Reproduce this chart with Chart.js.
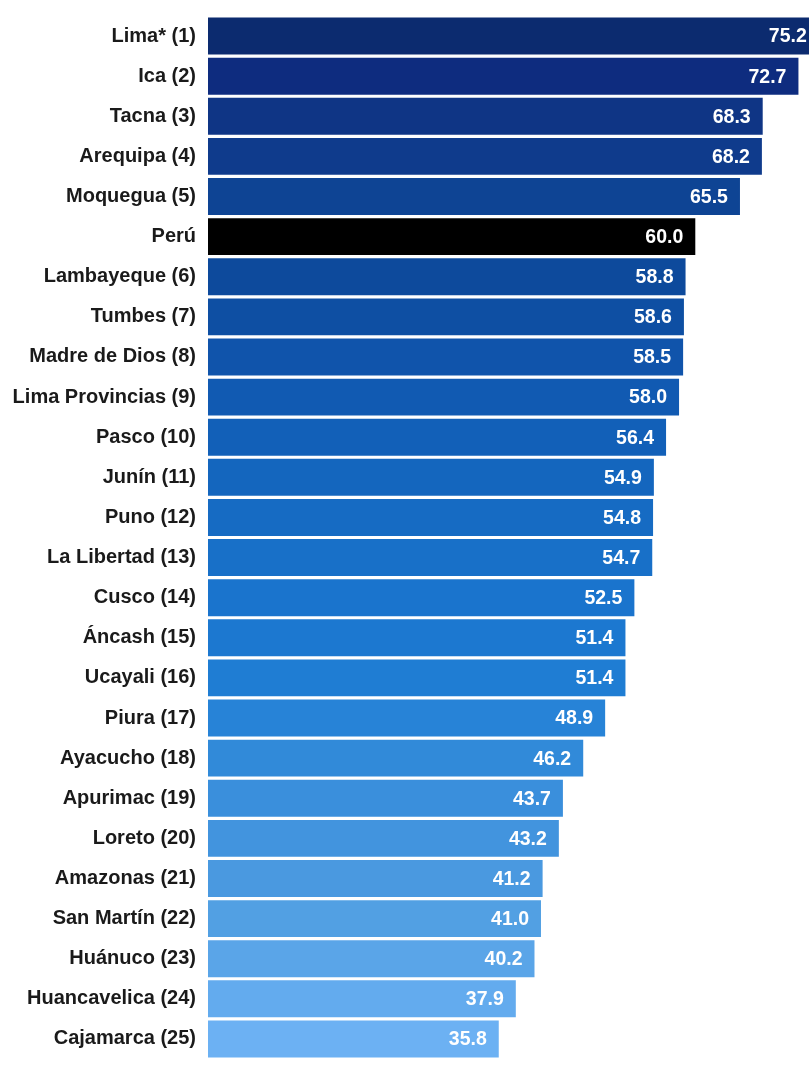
<!DOCTYPE html>
<html>
<head>
<meta charset="utf-8">
<script src="https://cdn.jsdelivr.net/npm/chart.js@4"></script>
<style>
  body { margin: 0; background: #fff; }
  #wrap { width: 809px; height: 1068px; position: relative; }
</style>
</head>
<body>
<div id="wrap"><canvas id="myChart"></canvas></div>
<script>
const regiones = ["Lima* (1)", "Ica (2)", "Tacna (3)", "Arequipa (4)", "Moquegua (5)", "Perú",
    "Lambayeque (6)", "Tumbes (7)", "Madre de Dios (8)", "Lima Provincias (9)", "Pasco (10)",
    "Junín (11)", "Puno (12)", "La Libertad (13)", "Cusco (14)", "Áncash (15)", "Ucayali (16)",
    "Piura (17)", "Ayacucho (18)", "Apurimac (19)", "Loreto (20)", "Amazonas (21)",
    "San Martín (22)", "Huánuco (23)", "Huancavelica (24)", "Cajamarca (25)"]
const valores = [75.2, 72.7, 68.3, 68.2, 65.5, 60.0, 58.8, 58.6, 58.5, 58.0, 56.4, 54.9, 54.8,
    54.7, 52.5, 51.4, 51.4, 48.9, 46.2, 43.7, 43.2, 41.2, 41.0, 40.2, 37.9, 35.8]

// colores de las barras, de oscuro a claro (Perú en negro)
const colores = ["#0c2b6f", "#0e2c7f", "#0f3585", "#0f3b8c", "#0e4494", "#000000",
    "#0d4a9c", "#0e4fa3", "#1054ab", "#115ab2", "#1260b8", "#1466be", "#166bc3", "#1870c8",
    "#1a74cd", "#1c78d0", "#1f7dd3", "#2783d7", "#318ad9", "#3a8fdc", "#4294de", "#4a99e0",
    "#52a0e3", "#5aa5e8", "#63abee", "#6cb1f3"]

const etiquetas = {
    id: "etiquetas",
    afterDatasetsDraw(chart) {
        const ctx = chart.ctx
        const meta = chart.getDatasetMeta(0)
        ctx.save()
        ctx.fillStyle = "#ffffff"
        ctx.font = "bold 19.5px 'Liberation Sans', Arial, sans-serif"
        ctx.textAlign = "right"
        ctx.textBaseline = "middle"
        meta.data.forEach((bar, i) => {
            ctx.fillText(valores[i].toFixed(1), bar.x - 12, bar.y + 1)
        })
        ctx.restore()
    }
}

const config = {
    type: "bar",
    data: {
        labels: regiones,
        datasets: [{
            data: valores,
            backgroundColor: colores,
            barPercentage: 0.92,
            categoryPercentage: 1
        }]
    },
    options: {
        indexAxis: "y",
        responsive: true,
        maintainAspectRatio: false,
        animation: false,
        layout: { padding: { top: 16, bottom: 9, left: 0, right: 0 } },
        plugins: { legend: { display: false }, tooltip: { enabled: false } },
        scales: {
            x: { display: false, min: 0, max: 74 },
            y: {
                grid: { display: false, drawTicks: false },
                border: { display: false },
                ticks: {
                    color: "#1a1a1a",
                    padding: 12,
                    font: { family: "'Liberation Sans', Arial, sans-serif", size: 20, weight: "bold" }
                },
                afterFit(scale) {
                    scale.width = 208
                    scale.paddingTop = 0
                    scale.paddingBottom = 0
                }
            }
        }
    },
    plugins: [etiquetas]
}

const myChart = new Chart(document.getElementById("myChart"), config)
</script>
</body>
</html>
